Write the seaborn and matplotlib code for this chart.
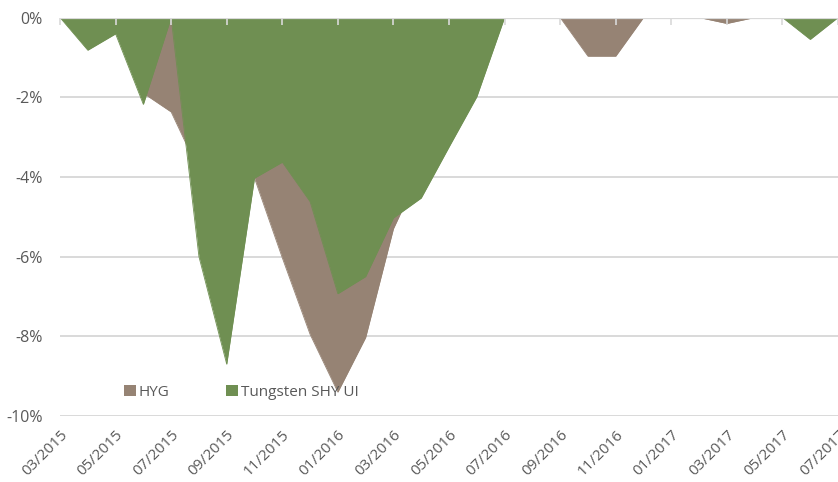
import numpy as np
import pandas as pd
import matplotlib
matplotlib.use("Agg")
import matplotlib.pyplot as plt
import seaborn as sns

# months 03/2015 .. 07/2017
months = pd.date_range("2015-03-01", "2017-07-01", freq="MS").strftime("%m/%Y").tolist()

# drawdown in %
hyg = [0.0, -0.3, -0.2, -1.9, -2.37, -3.85, -4.8, -4.03, -6.03, -7.95,
       -9.4, -8.03, -5.3, -3.8, -2.5, -1.0, 0.0, 0.0, 0.0, -0.97,
       -0.97, 0.0, 0.0, 0.0, -0.15, 0.0, 0.0, 0.0, 0.0]
tungsten = [0.0, -0.82, -0.41, -2.18, 0.0, -6.0, -8.7, -4.03, -3.63, -4.62,
            -6.93, -6.5, -5.03, -4.53, -3.25, -1.99, 0.0, 0.0, 0.0, 0.0,
            0.0, 0.0, 0.0, 0.0, 0.0, 0.0, 0.0, -0.55, 0.0]

series_names = ["HYG", "Tungsten SHY UI"]
colors = ["#968374", "#6F8F52"]

df = pd.DataFrame({"pos": np.arange(len(months)), "month": months,
                   "HYG": hyg, "Tungsten SHY UI": tungsten})

sns.set_theme(style="white")
plt.rcParams["font.family"] = ["Open Sans", "DejaVu Sans"]
grey = "#595959"

fig = plt.figure(figsize=(8.38, 4.82), dpi=100)
ax = fig.add_axes([60 / 838, 1 - 416 / 482, 778 / 838, (416 - 17.5) / 482])

for name, c in zip(series_names, colors):
    ax.fill_between(df["pos"], df[name], 0, color=c, lw=0, zorder=1, label=name)
    sns.lineplot(data=df, x="pos", y=name, color=c, lw=0.6, ax=ax, zorder=1)

# gridlines
for v in [-2, -4, -6, -8, -10]:
    ax.axhline(v, color="#D9D9D9", lw=1.4, zorder=0.5)
ax.axhline(0, color="#D9D9D9", lw=1.6, zorder=3)

ax.set_xlim(0, len(months) - 1)
ax.set_ylim(-10, 0)
ax.set_yticks([0, -2, -4, -6, -8, -10])
ax.set_yticklabels(["0%", "-2%", "-4%", "-6%", "-8%", "-10%"])
ax.set_xticks(df["pos"][::2])
ax.set_xticklabels(df["month"][::2], rotation=45, ha="right", rotation_mode="anchor")
ax.set_axisbelow(False)
ax.tick_params(axis="x", bottom=False, top=True, labelbottom=True, labeltop=False,
               direction="in", length=5, width=1.2, color="#D9D9D9",
               labelsize=11, labelcolor=grey, pad=8)
ax.tick_params(axis="y", left=False, labelsize=11.5, labelcolor=grey, pad=6.5)
ax.set_xlabel("")
ax.set_ylabel("")
for s in ax.spines.values():
    s.set_visible(False)

ax.legend(loc="lower left", bbox_to_anchor=(0.075, 0.025), ncol=2, frameon=False,
          fontsize=11, labelcolor=grey, handlelength=0.75, handleheight=0.75,
          handletextpad=0.2, columnspacing=3.7, borderaxespad=0)

fig.savefig("out.png", dpi=100)
